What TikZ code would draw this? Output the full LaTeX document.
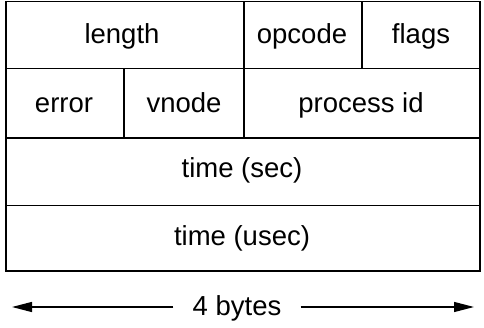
\documentclass[tikz,border=0pt]{standalone}
\usepackage{fontspec}
\setmainfont{Liberation Sans}
\usetikzlibrary{arrows.meta,positioning}

\begin{document}
\begin{tikzpicture}[x=1pt, y=-1pt, font=\fontsize{27.5}{31}\selectfont,
    frame/.style={line width=1.8pt},
    field/.style={anchor=base, inner sep=0pt},
    arr/.style={line width=1.3pt, -{Triangle[length=20pt,width=10pt]}}]
    \useasboundingbox (0,0) rectangle (484,328);

    % Header layout
    \draw[frame] (6,1.5) rectangle (480,271);
    \draw[frame] (6,68.5) -- (480,68.5);
    \draw[frame] (6,138) -- (480,138);
    \draw[frame] (6,205.5) -- (480,205.5);
    \draw[frame] (244,1.5) -- (244,138);
    \draw[frame] (362,1.5) -- (362,68.5);
    \draw[frame] (124,68.5) -- (124,138);

    % Fields
    \node[field] (length) at (122,43.5) {length};
    \node[field] (opcode) at (302,43.5) {opcode};
    \node[field] (flags) at (421,43.5) {flags};
    \node[field] (error) at (64,113) {error};
    \node[field] (vnode) at (184,113) {vnode};
    \node[field] (pid) at (361,113) {process id};
    \node[field] (sec) at (242,178) {time (sec)};
    \node[field] (usec) at (242,246) {time (usec)};

    % Width
    \coordinate (lend) at (12,307);
    \coordinate (rend) at (474,307);
    \node[field, inner xsep=19pt] (bytes) at (237,316) {4 bytes};
    \draw[arr] (bytes.west |- lend) -- (lend);
    \draw[arr] (bytes.east |- rend) -- (rend);
\end{tikzpicture}
\end{document}
